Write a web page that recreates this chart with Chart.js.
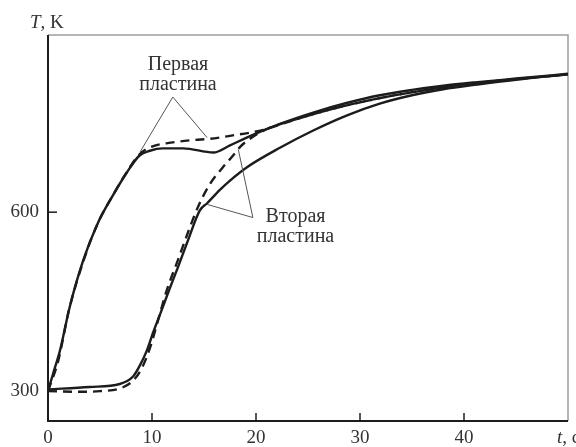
<!DOCTYPE html>
<html>
<head>
<meta charset="utf-8">
<script src="https://cdn.jsdelivr.net/npm/chart.js@4.4.1/dist/chart.umd.min.js"></script>
<style>
html, body { margin: 0; padding: 0; background: #fff; }
#graph { display: block; }
</style>
</head>
<body>
<canvas id="graph" width="576" height="447"></canvas>
<script>
// Первая пластина, расчёт (сплошная) и эксперимент (штрих)
const t1Solid = [0, 0.5, 1.15, 2.1, 3.4, 4.8, 6.2, 7.6, 8.8, 9.8, 11, 13, 15.9, 17.5, 19.1, 22.3, 25.5, 28.7, 31.9, 35, 38, 41.3, 45, 50];
const T1Solid = [300, 330, 368, 442, 520, 582, 627, 667, 695, 703, 707, 707, 700, 712, 725, 748, 767, 783, 796, 805, 812, 818, 824, 832];
const t1Dash = [0, 1, 2, 3.4, 4.8, 6.2, 7.6, 8.8, 10, 12, 14, 15.6, 17.5, 20.7, 23.9, 27.1, 31.3, 35, 40, 45, 50];
const T1Dash = [300, 352, 435, 518, 582, 627, 668, 697, 710, 717, 721, 723, 728, 738, 756, 772, 789, 801, 814, 823, 831];

// Вторая пластина
const t2Solid = [0, 4, 6.9, 8.2, 8.8, 9.5, 10.1, 10.8, 11.7, 12.5, 13.4, 14.6, 15.3, 16.5, 17.5, 19.1, 22.3, 25.5, 28.7, 31.9, 35, 38, 41.3, 45, 50];
const T2Solid = [303, 307, 312, 325, 342, 368, 398, 430, 472, 508, 550, 603, 615, 637, 653, 675, 708, 737, 762, 782, 796, 806, 814, 822, 831];
const t2Dash = [0, 3, 5, 7, 8.2, 9, 9.8, 10.6, 11.4, 12.5, 13.5, 14.4, 15.6, 16.8, 17.8, 18.5, 19.5, 21, 23.9, 27.1, 31.3, 35, 40, 45, 50];
const T2Dash = [300, 299, 300, 305, 318, 338, 372, 420, 468, 520, 568, 608, 648, 675, 695, 710, 724, 739, 756, 772, 789, 801, 814, 823, 831];

// Деления осей
const xTicks = [0, 10, 20, 30, 40];
const yTicks = [300, 600];

// Подписи-выноски: [t, T] первой строки, вершины и концов
const notes = [
    { lines: ['Первая', 'пластина'], at: [12.5, 847], apex: [12.0, 793], ends: [[8.85, 701], [15.3, 725]] },
    { lines: ['Вторая', 'пластина'], at: [23.8, 593], apex: [19.7, 591], ends: [[15.3, 613], [18.3, 705]] }
];

const FONT = '"Liberation Serif", "DejaVu Serif", serif';
const INK = '#1c1c1c';

function pontos(ts, Ts) {
    return ts.map((t, i) => ({ x: t, y: Ts[i] }));
}

function serie(ts, Ts, dash) {
    return {
        data: pontos(ts, Ts),
        borderColor: INK,
        borderWidth: 2.4,
        borderDash: dash ? [9, 6] : [],
        pointRadius: 0,
        fill: false,
        cubicInterpolationMode: 'monotone'
    };
}

// Рамка, внутренние деления, выноски и подписи осей
const extras = {
    id: 'extras',
    beforeDatasetsDraw(chart) {
        const { ctx, chartArea: a, scales: { x, y } } = chart;
        ctx.save();
        ctx.strokeStyle = '#9e9e9e';
        ctx.lineWidth = 1.5;
        ctx.beginPath();
        ctx.moveTo(a.left, a.top);
        ctx.lineTo(a.right, a.top);
        ctx.lineTo(a.right, a.bottom);
        ctx.stroke();

        ctx.strokeStyle = INK;
        ctx.lineWidth = 2;
        ctx.beginPath();
        ctx.moveTo(a.left, a.top);
        ctx.lineTo(a.left, a.bottom);
        ctx.lineTo(a.right, a.bottom);
        ctx.stroke();

        ctx.lineWidth = 1.5;
        xTicks.forEach(v => {
            if (v === 0) return;
            const px = x.getPixelForValue(v);
            ctx.beginPath();
            ctx.moveTo(px, a.bottom);
            ctx.lineTo(px, a.bottom - 8);
            ctx.stroke();
        });
        yTicks.forEach(v => {
            const py = y.getPixelForValue(v);
            ctx.beginPath();
            ctx.moveTo(a.left, py);
            ctx.lineTo(a.left + 9, py);
            ctx.stroke();
        });
        ctx.restore();
    },
    afterDraw(chart) {
        const { ctx, scales: { x, y } } = chart;
        const px = p => [x.getPixelForValue(p[0]), y.getPixelForValue(p[1])];
        ctx.save();
        ctx.strokeStyle = '#555';
        ctx.lineWidth = 1;
        ctx.fillStyle = '#333';
        ctx.font = '20px ' + FONT;
        ctx.textAlign = 'center';
        ctx.textBaseline = 'middle';
        notes.forEach(n => {
            const [ax, ay] = px(n.apex);
            n.ends.forEach(e => {
                const [ex, ey] = px(e);
                ctx.beginPath();
                ctx.moveTo(ax, ay);
                ctx.lineTo(ex, ey);
                ctx.stroke();
            });
            const [tx, ty] = px(n.at);
            n.lines.forEach((s, i) => ctx.fillText(s, tx, ty + i * 20));
        });

        // T, K  и  t, c
        ctx.textAlign = 'left';
        ctx.font = 'italic 19px ' + FONT;
        ctx.fillText('T', 30, 23);
        let w = ctx.measureText('T').width;
        ctx.font = '19px ' + FONT;
        ctx.fillText(', K', 30 + w, 23);

        ctx.font = 'italic 19px ' + FONT;
        ctx.fillText('t', 557, 438);
        w = ctx.measureText('t').width;
        ctx.font = '19px ' + FONT;
        ctx.fillText(', c', 557 + w, 438);
        ctx.restore();
    }
};

const ctx = document.getElementById('graph').getContext('2d');

const config = {
    type: 'line',
    data: {
        datasets: [
            serie(t1Dash, T1Dash, true),
            serie(t2Dash, T2Dash, true),
            serie(t1Solid, T1Solid, false),
            serie(t2Solid, T2Solid, false)
        ]
    },
    options: {
        responsive: false,
        animation: false,
        devicePixelRatio: 1,
        layout: { padding: { top: 35, right: 8, left: 0, bottom: 0 } },
        plugins: { legend: { display: false }, tooltip: { enabled: false } },
        scales: {
            x: {
                type: 'linear',
                min: 0,
                max: 50,
                afterBuildTicks: s => { s.ticks = xTicks.map(v => ({ value: v })); },
                afterFit: s => { s.height = 26; },
                grid: { display: false, drawTicks: false },
                border: { display: false },
                ticks: { color: '#333', padding: 6, maxRotation: 0, autoSkip: false, font: { family: FONT, size: 19 } }
            },
            y: {
                type: 'linear',
                min: 250,
                max: 897,
                afterBuildTicks: s => { s.ticks = yTicks.map(v => ({ value: v })); },
                afterFit: s => { s.width = 48; },
                grid: { display: false, drawTicks: false },
                border: { display: false },
                ticks: { color: '#333', padding: 9, autoSkip: false, font: { family: FONT, size: 19 } }
            }
        }
    },
    plugins: [extras]
};

const grafico = new Chart(ctx, config);
</script>
</body>
</html>
